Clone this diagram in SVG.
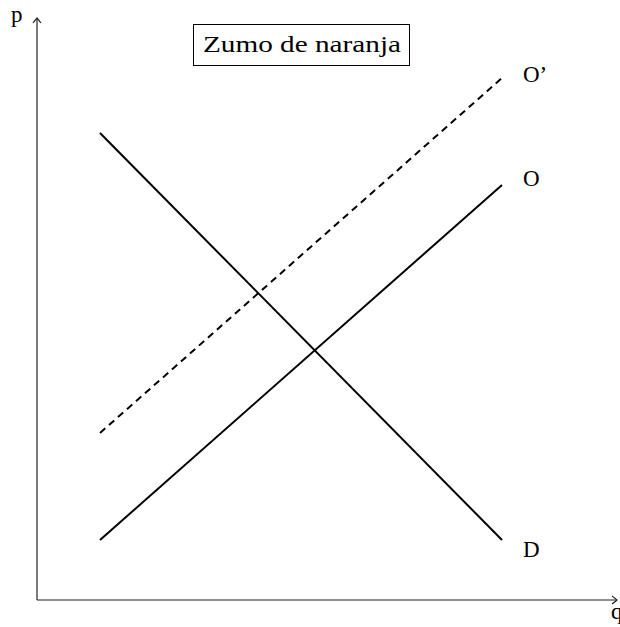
<svg xmlns="http://www.w3.org/2000/svg" width="620" height="627" viewBox="0 0 620 627">
<style>
.lbl{font-family:"Liberation Serif","Times New Roman",serif;font-size:23px;fill:#000}
.axis{stroke:#222;stroke-width:1.2;fill:none}
.curve{stroke:#000;stroke-width:2;fill:none;stroke-linecap:butt}
</style>
<defs>
<marker id="to" viewBox="-6 -5 8 10" markerWidth="8" markerHeight="10" refX="0" refY="0" orient="auto" markerUnits="userSpaceOnUse">
<path d="M-5,-4 Q-1,-1 0,0 Q-1,1 -5,4" fill="none" stroke="#222" stroke-width="1.1"/>
</marker>
</defs>
<g id="axes">
<path class="axis" d="M37,600 L37,18" marker-end="url(#to)"/>
<path class="axis" d="M37,600 L617,600" marker-end="url(#to)"/>
<text class="lbl" x="11" y="22">p</text>
<text class="lbl" x="611" y="619">q</text>
</g>
<g id="title">
<rect x="193.5" y="24.5" width="216" height="41" fill="#fff" stroke="#000" stroke-width="1"/>
<text class="lbl" x="203" y="52" textLength="198" lengthAdjust="spacingAndGlyphs">Zumo de naranja</text>
</g>
<g id="connectors">
<line id="D" class="curve" x1="100" y1="133" x2="502" y2="540"/>
<line id="O" class="curve" x1="100" y1="540" x2="502" y2="185"/>
<line id="Oprime" class="curve" x1="100" y1="433" x2="502" y2="78" stroke-dasharray="7 5"/>
</g>
<g id="labels">
<text class="lbl" x="523" y="82">O’</text>
<text class="lbl" x="523" y="186">O</text>
<text class="lbl" x="523" y="557">D</text>
</g>
</svg>
